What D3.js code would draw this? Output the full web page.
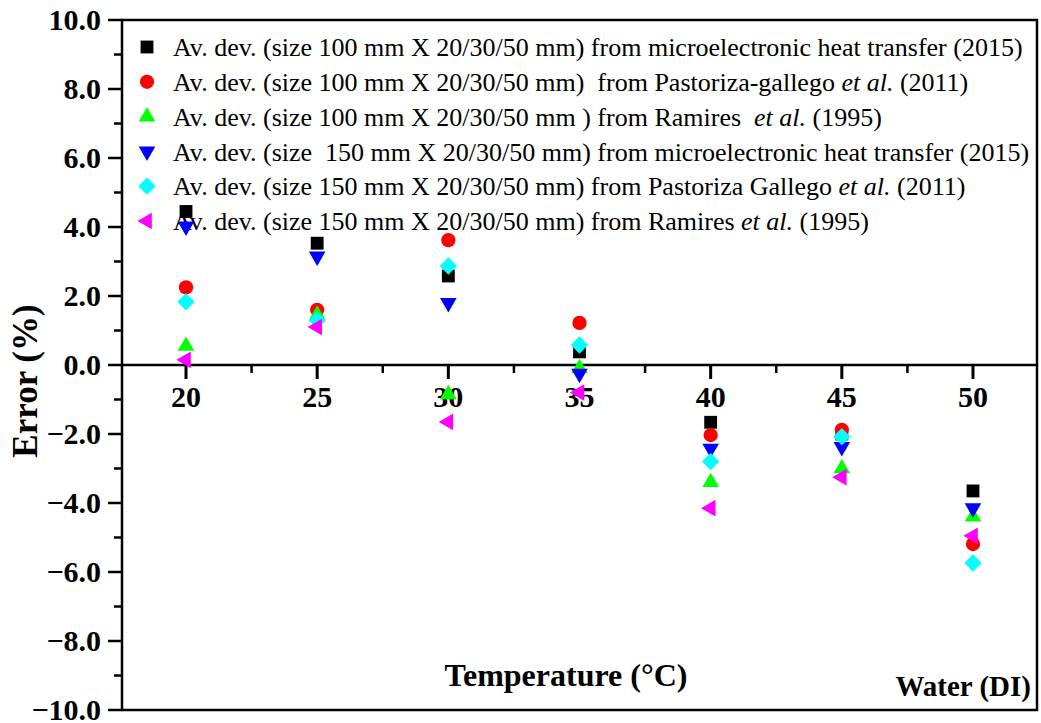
<!DOCTYPE html>
<html>
<head>
<meta charset="utf-8">
<script src="https://cdn.jsdelivr.net/npm/d3@7"></script>
<style>
  body { margin: 0; background: #fff; }
</style>
</head>
<body>
<svg id="canvas"></svg>
<script>
const temps = [20, 25, 30, 35, 40, 45, 50];

// error (%) per series
const micro100 = [4.45, 3.53, 2.58, 0.38, -1.66, -2.0, -3.65];
const pastoriza100 = [2.25, 1.6, 3.62, 1.22, -2.03, -1.88, -5.19];
const ramires100 = [0.55, 1.45, -0.85, -0.1, -3.4, -3.0, -4.4];
const micro150 = [4.02, 3.15, 1.8, -0.25, -2.42, -2.37, -4.15];
const pastoriza150 = [1.83, 1.3, 2.87, 0.58, -2.8, -2.08, -5.74];
const ramires150 = [0.15, 1.1, -1.65, -0.8, -4.15, -3.25, -4.95];

const legendParts = [
  [["Av. dev. (size 100 mm X 20/30/50 mm) from microelectronic heat transfer (2015)", false]],
  [["Av. dev. (size 100 mm X 20/30/50 mm)  from Pastoriza-gallego ", false], ["et al.", true], [" (2011)", false]],
  [["Av. dev. (size 100 mm X 20/30/50 mm ) from Ramires  ", false], ["et al.", true], [" (1995)", false]],
  [["Av. dev. (size  150 mm X 20/30/50 mm) from microelectronic heat transfer (2015)", false]],
  [["Av. dev. (size 150 mm X 20/30/50 mm) from Pastoriza Gallego ", false], ["et al.", true], [" (2011)", false]],
  [["Av. dev. (size 150 mm X 20/30/50 mm) from Ramires ", false], ["et al.", true], [" (1995)", false]]
];

const series = [
  { values: micro100, color: "#000000", shape: d3.symbolSquare, size: 165, rot: 0 },
  { values: pastoriza100, color: "#ff0000", shape: d3.symbolCircle, size: 160, rot: 0 },
  { values: ramires100, color: "#00ff00", shape: d3.symbolTriangle, size: 120, rot: 0 },
  { values: micro150, color: "#0000ff", shape: d3.symbolTriangle, size: 120, rot: 180 },
  { values: pastoriza150, color: "#00ffff", shape: d3.symbolSquare, size: 150, rot: 45 },
  { values: ramires150, color: "#ff00ff", shape: d3.symbolTriangle, size: 120, rot: -90 }
];

const serif = "Liberation Serif";

const W = 1041, H = 723;
const svg = d3.select("#canvas").attr("width", W).attr("height", H);

const plotLeft = 122, plotRight = 1037, plotTop = 20, plotBottom = 710;

const x = d3.scaleLinear().domain([17.56, 52.44]).range([plotLeft, plotRight]);
const y = d3.scaleLinear().domain([-10, 10]).range([plotBottom, plotTop]);

// frame
svg.append("rect")
  .attr("x", plotLeft).attr("y", plotTop)
  .attr("width", plotRight - plotLeft).attr("height", plotBottom - plotTop)
  .attr("fill", "none").attr("stroke", "#000").attr("stroke-width", 2.5);

// y axis: major ticks every 2, minor every 1
const yAxis = svg.append("g").attr("transform", `translate(${plotLeft},0)`);
yAxis.selectAll("line.minor")
  .data(d3.range(-9, 10, 2))
  .join("line")
  .attr("class", "minor")
  .attr("x1", -8).attr("x2", 0)
  .attr("y1", d => y(d)).attr("y2", d => y(d))
  .attr("stroke", "#000").attr("stroke-width", 2.5);
yAxis.selectAll("line.major")
  .data(d3.range(-10, 11, 2))
  .join("line")
  .attr("class", "major")
  .attr("x1", -14).attr("x2", 0)
  .attr("y1", d => y(d)).attr("y2", d => y(d))
  .attr("stroke", "#000").attr("stroke-width", 2.5);
yAxis.selectAll("text")
  .data(d3.range(-10, 11, 2))
  .join("text")
  .attr("x", -21)
  .attr("y", d => y(d))
  .attr("dy", "0.33em")
  .attr("text-anchor", "end")
  .attr("font-family", serif)
  .attr("font-size", 30).attr("font-weight", "bold")
  .text(d => d3.format(".1f")(d));

// x axis along zero line
const xAxis = svg.append("g").attr("transform", `translate(0,${y(0)})`);
xAxis.append("line")
  .attr("x1", plotLeft).attr("x2", plotRight)
  .attr("stroke", "#000").attr("stroke-width", 2.5);
xAxis.selectAll("line.minor")
  .data(d3.range(22.5, 52, 5))
  .join("line")
  .attr("class", "minor")
  .attr("x1", d => x(d)).attr("x2", d => x(d))
  .attr("y1", 0).attr("y2", 8)
  .attr("stroke", "#000").attr("stroke-width", 2.5);
xAxis.selectAll("line.major")
  .data(temps)
  .join("line")
  .attr("class", "major")
  .attr("x1", d => x(d)).attr("x2", d => x(d))
  .attr("y1", 0).attr("y2", 14)
  .attr("stroke", "#000").attr("stroke-width", 3);
xAxis.selectAll("text")
  .data(temps)
  .join("text")
  .attr("x", d => x(d))
  .attr("y", 42)
  .attr("text-anchor", "middle")
  .attr("font-family", serif)
  .attr("font-size", 30).attr("font-weight", "bold")
  .text(d => d);

// axis titles
svg.append("text")
  .attr("transform", `translate(37,${y(0) + 16}) rotate(-90)`)
  .attr("text-anchor", "middle")
  .attr("font-family", serif)
  .attr("font-size", 35).attr("font-weight", "bold")
  .text("Error (%)");

svg.append("text")
  .attr("x", 566).attr("y", 686)
  .attr("text-anchor", "middle")
  .attr("font-family", serif)
  .attr("font-size", 32).attr("font-weight", "bold")
  .text("Temperature (°C)");

svg.append("text")
  .attr("x", 1031).attr("y", 696)
  .attr("text-anchor", "end")
  .attr("font-family", serif)
  .attr("font-size", 29).attr("font-weight", "bold")
  .text("Water (DI)");

// legend
const legend = svg.append("g");
series.forEach((s, i) => {
  const ly = 47 + i * 34.8;
  legend.append("path")
    .attr("d", d3.symbol().type(s.shape).size(s.size)())
    .attr("transform", `translate(147,${ly}) rotate(${s.rot})`)
    .attr("fill", s.color);
  const t = legend.append("text")
    .attr("x", 173).attr("y", ly)
    .attr("dy", "0.35em")
    .attr("font-family", serif)
    .attr("font-size", 26)
    .style("white-space", "pre");
  legendParts[i].forEach(p => {
    t.append("tspan").attr("font-style", p[1] ? "italic" : "normal").text(p[0]);
  });
});

// points
series.forEach(s => {
  svg.append("g")
    .selectAll("path")
    .data(temps.map((t, j) => ({ t: t, v: s.values[j] })))
    .join("path")
    .attr("d", d3.symbol().type(s.shape).size(s.size)())
    .attr("transform", d => `translate(${x(d.t)},${y(d.v)}) rotate(${s.rot})`)
    .attr("fill", s.color);
});
</script>
</body>
</html>
